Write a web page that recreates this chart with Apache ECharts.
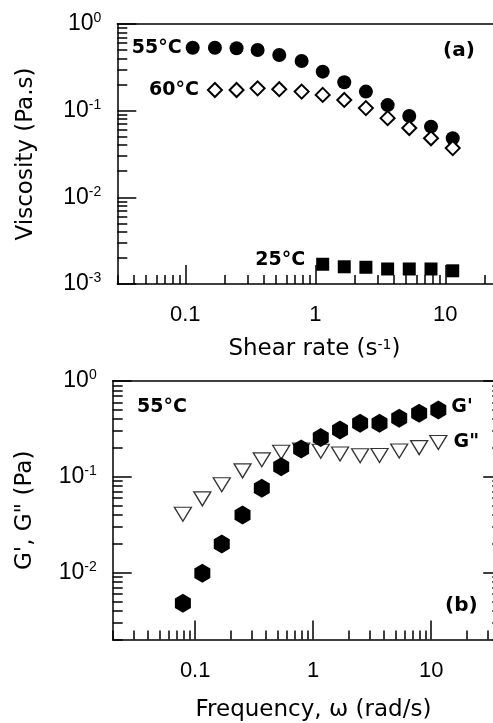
<!DOCTYPE html>
<html><head><meta charset="utf-8">
<script src="https://cdn.jsdelivr.net/npm/echarts@6/dist/echarts.min.js"></script>
<style>html,body{margin:0;padding:0;background:#fff}#c{width:493px;height:723px}</style>
</head><body><div id="c"></div>
<script>
// ---- Panel (a): viscosity vs shear rate ----
const shearRate55 = [0.114, 0.169, 0.248, 0.36, 0.528, 0.785, 1.14, 1.67, 2.45, 3.6, 5.28, 7.76, 11.4];
const visc55 = [0.533, 0.533, 0.525, 0.501, 0.439, 0.374, 0.282, 0.213, 0.166, 0.116, 0.0869, 0.0654, 0.048];
const shearRate60 = [0.169, 0.248, 0.36, 0.528, 0.785, 1.14, 1.67, 2.45, 3.6, 5.28, 7.76, 11.4];
const visc60 = [0.173, 0.173, 0.181, 0.177, 0.166, 0.152, 0.133, 0.107, 0.082, 0.063, 0.048, 0.037];
const shearRate25 = [1.14, 1.67, 2.45, 3.6, 5.28, 7.76, 11.4];
const visc25 = [0.00169, 0.00158, 0.00156, 0.00149, 0.00149, 0.00149, 0.00142];

// ---- Panel (b): G', G'' vs frequency ----
const frequency = [0.0787, 0.115, 0.168, 0.252, 0.367, 0.536, 0.791, 1.16, 1.69, 2.50, 3.65, 5.36, 7.91, 11.5];
const gPrime = [0.00478, 0.00984, 0.0199, 0.0399, 0.0759, 0.1274, 0.195, 0.258, 0.308, 0.362, 0.362, 0.408, 0.46, 0.498];
const gDoublePrime = [0.0407, 0.0589, 0.0826, 0.1155, 0.1505, 0.1806, 0.1905, 0.185, 0.173, 0.166, 0.167, 0.186, 0.202, 0.228];

// ---- tick values / labels ----
const xMajorTicks = [0.1, 1, 10];
const xTickLabels = ['0.1', '1', '10'];
const yMajorTicksA = [1, 0.1, 0.01, 0.001];
const yTickExpA = ['0', '-1', '-2', '-3'];
const yMajorTicksB = [1, 0.1, 0.01];
const yTickExpB = ['0', '-1', '-2'];

function minorTicks(fromExp, toExp) {
  const out = [];
  for (let e = fromExp; e <= toExp; e++) {
    for (let m = 2; m <= 9; m++) out.push(+(m * Math.pow(10, e)).toPrecision(6));
  }
  return out;
}
const AX = '#000';
const FONT = 'Liberation Sans';
const TFONT = 'DejaVu Sans';
const lineStyle = { color: AX, width: 1.5 };
function pick(v, ticks, labels) {
  let best = 0, bd = Infinity;
  ticks.forEach((t, i) => { const d = Math.abs(Math.log10(v) - Math.log10(t)); if (d < bd) { bd = d; best = i; } });
  return labels[best];
}
const richY = {
  b: { fontFamily: FONT, fontSize: 23, color: AX, lineHeight: 25 },
  s: { fontFamily: FONT, fontSize: 14, color: AX, lineHeight: 14, verticalAlign: 'top' }
};

function xAxes(g, min, max, minors, name, nameGap, namePad) {
  return [
    { type: 'log', gridIndex: g, min, max, position: 'bottom',
      axisLine: { show: true, onZero: false, lineStyle },
      axisTick: { show: true, inside: true, length: 19, customValues: xMajorTicks, lineStyle },
      axisLabel: { show: true, customValues: xMajorTicks, margin: 20, fontFamily: FONT, fontSize: 22, color: AX,
        formatter: v => pick(v, xMajorTicks, xTickLabels) },
      splitLine: { show: false }, minorTick: { show: false },
      name, nameLocation: 'middle', nameGap,
      nameTextStyle: { fontFamily: TFONT, fontSize: 23, color: AX, padding: namePad,
        rich: { sup: { fontFamily: TFONT, fontSize: 14, color: AX, verticalAlign: 'top', lineHeight: 14 } } } },
    { type: 'log', gridIndex: g, min, max, position: 'bottom',
      axisLine: { show: false, onZero: false },
      axisTick: { show: true, inside: true, length: 9, customValues: minors, lineStyle },
      axisLabel: { show: false }, splitLine: { show: false } },
    { type: 'log', gridIndex: g, min, max, position: 'top',
      axisLine: { show: true, onZero: false, lineStyle },
      axisTick: { show: false }, axisLabel: { show: false }, splitLine: { show: false } }
  ];
}
function yAxes(g, min, max, majors, exps, minors, name, nameGap) {
  return [
    { type: 'log', gridIndex: g, min, max, position: 'left',
      axisLine: { show: true, onZero: false, lineStyle },
      axisTick: { show: true, inside: true, length: 19, customValues: majors, lineStyle },
      axisLabel: { show: true, customValues: majors, margin: 16,
        formatter: v => '{b|10}{s|' + pick(v, majors, exps) + '}', rich: richY },
      splitLine: { show: false },
      name, nameLocation: 'middle', nameGap, nameRotate: 90,
      nameTextStyle: { fontFamily: TFONT, fontSize: 23, color: AX } },
    { type: 'log', gridIndex: g, min, max, position: 'left',
      axisLine: { show: false, onZero: false },
      axisTick: { show: true, inside: true, length: 10, customValues: minors, lineStyle },
      axisLabel: { show: false }, splitLine: { show: false } },
    { type: 'log', gridIndex: g, min, max, position: 'right',
      axisLine: { show: true, onZero: false, lineStyle },
      axisTick: { show: true, inside: true, length: 19, customValues: majors, lineStyle },
      axisLabel: { show: false }, splitLine: { show: false } },
    { type: 'log', gridIndex: g, min, max, position: 'right',
      axisLine: { show: false, onZero: false },
      axisTick: { show: true, inside: true, length: 10, customValues: minors, lineStyle },
      axisLabel: { show: false }, splitLine: { show: false } }
  ];
}

const zip = (xs, ys) => xs.map((x, i) => [x, ys[i]]);
const labelStyle = { fontFamily: TFONT, fontWeight: 'bold', fontSize: 19, color: AX, opacity: 1 };

const chart = echarts.init(document.getElementById('c'), null, { renderer: 'canvas' });
chart.setOption({
  animation: false,
  backgroundColor: '#fff',
  textStyle: { fontFamily: FONT },
  grid: [
    { left: 117.3, top: 24, width: 406.3, height: 260, outerBoundsMode: 'none', containLabel: false },
    { left: 112.7, top: 381, width: 389.5, height: 258.6, outerBoundsMode: 'none', containLabel: false }
  ],
  xAxis: [
    ...xAxes(0, 0.03, 40, minorTicks(-2, 1), 'Shear rate (s{sup|-1})', 54, [0, 12, 0, 0]),
    ...xAxes(1, 0.02, 40, minorTicks(-2, 1), 'Frequency, \u03c9 (rad/s)', 59, [0, 0, 0, 12])
  ],
  yAxis: [
    ...yAxes(0, 0.001, 1, yMajorTicksA, yTickExpA, minorTicks(-3, -1), 'Viscosity (Pa.s)', 80),
    ...yAxes(1, 0.002, 1, yMajorTicksB, yTickExpB, minorTicks(-3, -1), 'G\', G" (Pa)', 76)
  ],
  graphic: [
    { type: 'text', left: 443, top: 41, style: { text: '(a)', fontFamily: TFONT, fontWeight: 'bold', fontSize: 20, fill: AX } },
    { type: 'text', left: 445, top: 596, style: { text: '(b)', fontFamily: TFONT, fontWeight: 'bold', fontSize: 20, fill: AX } },
    { type: 'text', left: 137, top: 398, style: { text: '55°C', fontFamily: TFONT, fontWeight: 'bold', fontSize: 19, fill: AX } }
  ],
  series: [
    { type: 'scatter', xAxisIndex: 0, yAxisIndex: 0, data: zip(shearRate55, visc55),
      symbol: 'circle', symbolSize: 14, itemStyle: { color: '#000', opacity: 1 },
      label: { show: true, position: 'left', distance: 4, formatter: p => p.dataIndex === 0 ? '55°C' : '', ...labelStyle } },
    { type: 'scatter', xAxisIndex: 0, yAxisIndex: 0, data: zip(shearRate60, visc60),
      symbol: 'diamond', symbolSize: [14, 14], itemStyle: { color: '#fff', borderColor: '#000', borderWidth: 2, opacity: 1 },
      label: { show: true, position: 'left', distance: 8, formatter: p => p.dataIndex === 0 ? '60°C' : '', ...labelStyle } },
    { type: 'scatter', xAxisIndex: 0, yAxisIndex: 0, data: zip(shearRate25, visc25),
      symbol: 'rect', symbolSize: 13, itemStyle: { color: '#000', opacity: 1 },
      label: { show: true, position: 'left', distance: 11, offset: [0, -4], formatter: p => p.dataIndex === 0 ? '25°C' : '', ...labelStyle } },
    { type: 'scatter', xAxisIndex: 3, yAxisIndex: 4, data: zip(frequency, gDoublePrime),
      symbol: 'path://M-1,-1 L1,-1 L0,1 Z', symbolSize: [17, 14],
      itemStyle: { color: '#fff', borderColor: '#333', borderWidth: 1.3, opacity: 1 },
      label: { show: true, position: 'right', distance: 6, formatter: p => p.dataIndex === frequency.length - 1 ? 'G"' : '', ...labelStyle } },
    { type: 'scatter', xAxisIndex: 3, yAxisIndex: 4, data: zip(frequency, gPrime),
      symbol: 'path://M0,-1 L0.866,-0.5 L0.866,0.5 L0,1 L-0.866,0.5 L-0.866,-0.5 Z', symbolSize: [16, 19],
      itemStyle: { color: '#000', opacity: 1 },
      label: { show: true, position: 'right', distance: 5, offset: [0, -3], formatter: p => p.dataIndex === frequency.length - 1 ? "G'" : '', ...labelStyle } }
  ]
});
</script></body></html>
